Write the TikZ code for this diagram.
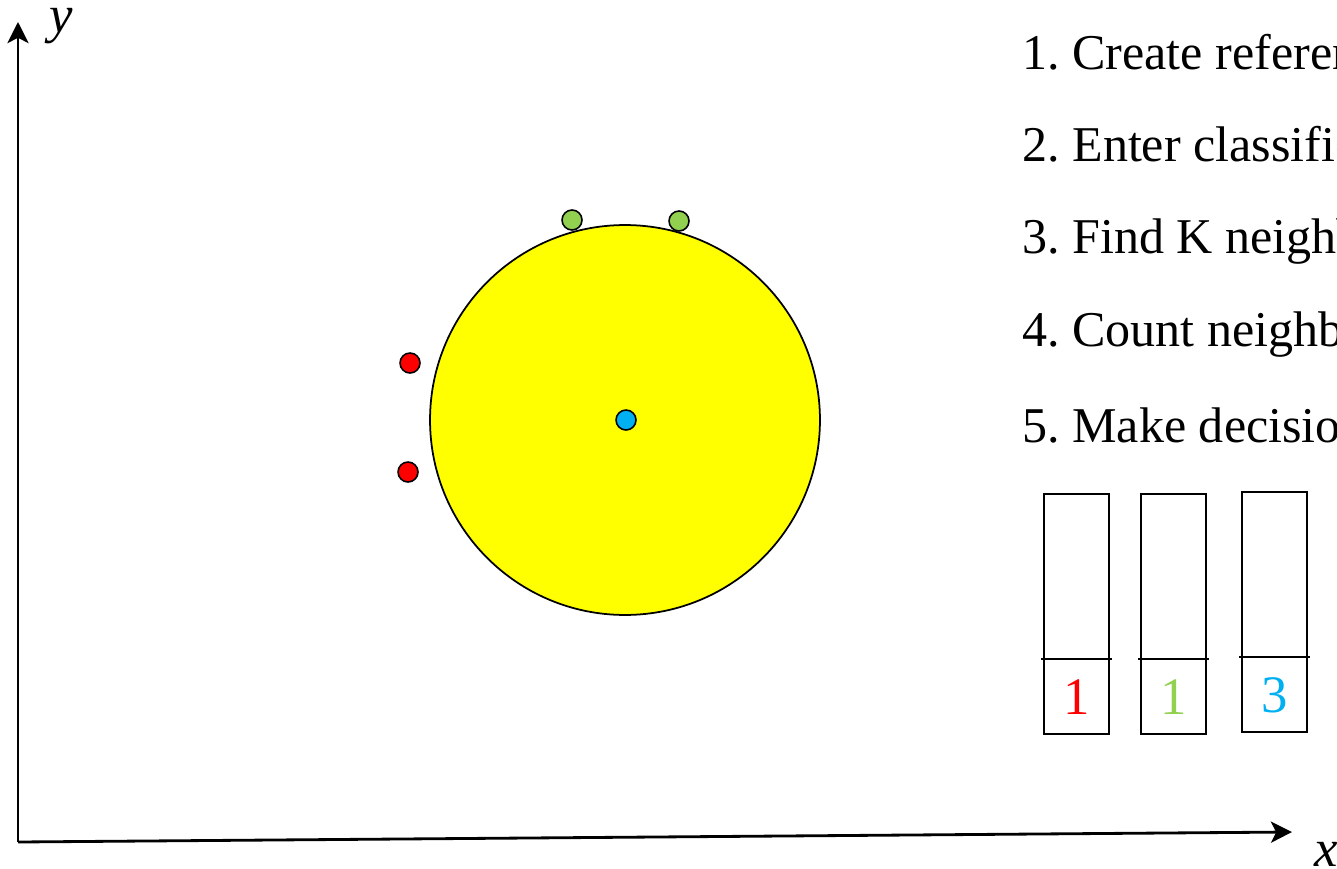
\documentclass[tikz,border=0pt]{standalone}
\usepackage{fontspec}
\setmainfont{Liberation Serif}
\usepackage{tikz}
\usetikzlibrary{arrows.meta, positioning}
\frenchspacing

\definecolor{ptred}{HTML}{FF0000}
\definecolor{ptgreen}{HTML}{92D050}
\definecolor{ptblue}{HTML}{00B0F0}
\definecolor{zoneyellow}{HTML}{FFFF00}

\begin{document}
\begin{tikzpicture}[
    x=0.02cm, y=-0.02cm,
    >={Stealth[length=12pt, width=12pt, inset=3pt]},
    axis/.style={line width=1.6pt, ->},
    dot/.style={circle, draw=black, line width=0.9pt, inner sep=0pt, minimum size=0.4cm},
    stepline/.style={font=\fontsize{28.5}{34}\selectfont, anchor=base west, inner sep=0pt},
    axislabel/.style={font=\fontsize{30}{36}\selectfont\itshape, anchor=base west, inner sep=0pt},
    bin/.style={draw=black, line width=1pt},
    count/.style={font=\fontsize{30}{36}\selectfont, inner sep=0pt}
]
\useasboundingbox (0,0) rectangle (1337,868);
% axes
\coordinate (origin) at (18,842);
\coordinate (ytip) at (18,22);
\coordinate (xtip) at (1292,832);
\draw[axis] (origin) -- (ytip);
\draw[axis] (origin) -- (xtip);
\node[axislabel] (ylab) at (49,33) {y};
\node[axislabel] (xlab) at (1314,866) {x};

% neighbourhood
\node[circle, draw=black, line width=1pt, fill=zoneyellow, minimum size=7.8cm, inner sep=0pt] (zone) at (625,420) {};
\node[dot, fill=ptblue] (query) at (626,420) {};
\node[dot, fill=ptgreen] (g1) at (572,220) {};
\node[dot, fill=ptgreen] (g2) at (679,221) {};
\node[dot, fill=ptred] (r1) at (410,363) {};
\node[dot, fill=ptred] (r2) at (408,472) {};

% steps
\node[stepline] (s1) at (1022,70) {1. Create reference};
\node[stepline] (s2) at (1022,162) {2. Enter classified};
\node[stepline] (s3) at (1022,253) {3. Find K neighbors};
\node[stepline] (s4) at (1022,346) {4. Count neighbors};
\node[stepline] (s5) at (1022,442) {5. Make decision};

% vote bins
\foreach \name/\xl/\yt/\num/\col in {redbin/1044/494/1/ptred, greenbin/1141/494/1/ptgreen, bluebin/1242/492/3/ptblue} {
    \draw[bin] (\xl,\yt) rectangle ++(65,240);
    \draw[bin] (\xl-3,\yt+165) -- ++(71,0);
    \node[count, text=\col] (\name) at (\xl+32.5,\yt+203) {\num};
}
\end{tikzpicture}
\end{document}
